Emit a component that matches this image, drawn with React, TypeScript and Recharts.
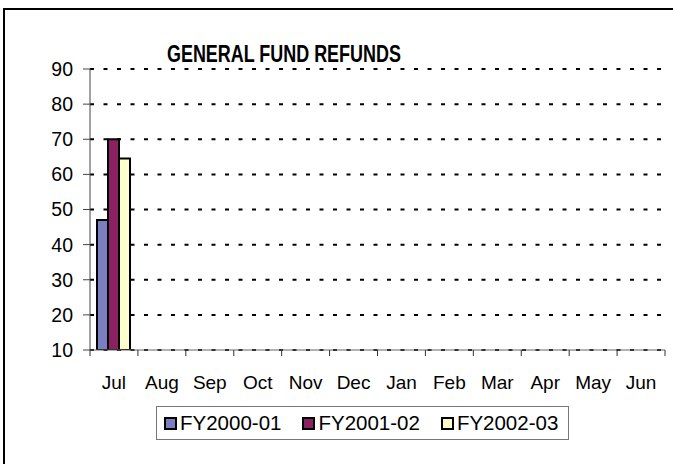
import { BarChart, Bar, XAxis, YAxis, CartesianGrid } from "recharts";

const months = ["Jul", "Aug", "Sep", "Oct", "Nov", "Dec", "Jan", "Feb", "Mar", "Apr", "May", "Jun"];
const fy2000 = [47, null, null, null, null, null, null, null, null, null, null, null];
const fy2001 = [70, null, null, null, null, null, null, null, null, null, null, null];
const fy2002 = [64.5, null, null, null, null, null, null, null, null, null, null, null];
const yTicks = [10, 20, 30, 40, 50, 60, 70, 80, 90];

const series = [
  { key: "fy2000", name: "FY2000-01", color: "#7b7fc0" },
  { key: "fy2001", name: "FY2001-02", color: "#8a2262" },
  { key: "fy2002", name: "FY2002-03", color: "#ffffcc" },
];

const data = months.map((m, i) => ({ month: m, fy2000: fy2000[i], fy2001: fy2001[i], fy2002: fy2002[i] }));

/* ── layout ─────────────────────────────────────────────── */
const W = 673;
const H = 464;
const LEFT = 90;
const RIGHT = 8;
const TOP = 69;
const BOTTOM = 84;
const XAXIS_H = 30;
const PLOT_BOTTOM = H - BOTTOM - XAXIS_H;
const HALF_BAND = (W - LEFT - RIGHT) / months.length / 2;
const font = "'Liberation Sans', Arial, sans-serif";

function MonthTick({ x, y, payload, index }: any) {
  return (
    <g>
      <line x1={x - HALF_BAND} x2={x - HALF_BAND} y1={PLOT_BOTTOM} y2={PLOT_BOTTOM + 6} stroke="#333" />
      {index === months.length - 1 && (
        <line x1={x + HALF_BAND} x2={x + HALF_BAND} y1={PLOT_BOTTOM} y2={PLOT_BOTTOM + 6} stroke="#333" />
      )}
      <text x={x} y={y} dy="0.71em" textAnchor="middle" fontSize={19} fontFamily={font} fill="#000">
        {payload.value}
      </text>
    </g>
  );
}

export default function App() {
  return (
    <div style={{ position: "absolute", left: 0, top: 0, width: W, height: H, overflow: "hidden", background: "#fff" }}>
      <div
        style={{
          position: "absolute", left: 3, top: 8, width: 700, height: 500,
          borderLeft: "2px solid #000", borderTop: "2px solid #000",
        }}
      />
      <div
        style={{
          position: "absolute", left: 100, width: 367, top: 41, textAlign: "center",
          fontFamily: font, fontWeight: "bold", fontSize: 23, lineHeight: "26px", color: "#000",
        }}
      >
        <span style={{ display: "inline-block", transform: "scaleX(0.78)", whiteSpace: "nowrap" }}>
          GENERAL FUND REFUNDS
        </span>
      </div>
      <div style={{ position: "absolute", left: 0, top: 0 }}>
        <BarChart
          width={W}
          height={H}
          data={data}
          margin={{ top: TOP, right: RIGHT, bottom: BOTTOM, left: 0 }}
          barSize={11}
          barGap={0}
        >
          <CartesianGrid vertical={false} stroke="#000" strokeWidth={2} strokeDasharray="4 9.5" />
          <XAxis
            dataKey="month"
            height={XAXIS_H}
            stroke="#666"
            tickLine={false}
            tickSize={0}
            tickMargin={26}
            interval={0}
            tick={<MonthTick />}
          />
          <YAxis
            width={LEFT}
            domain={[10, 90]}
            ticks={yTicks}
            allowDataOverflow
            stroke="#444"
            tickSize={7}
            tickMargin={10}
            tick={{ fontSize: 19.5, fontFamily: font, fill: "#000" }}
          />
          {series.map((s) => (
            <Bar
              key={s.key}
              dataKey={s.key}
              name={s.name}
              fill={s.color}
              stroke="#000"
              strokeWidth={2}
              isAnimationActive={false}
            />
          ))}
        </BarChart>
      </div>
      <div
        style={{
          position: "absolute", left: 156, top: 406, width: 413, height: 34,
          border: "1px solid #777", display: "flex", alignItems: "center",
          gap: 21, paddingLeft: 7, boxSizing: "border-box",
          fontFamily: font, fontSize: 20.5, color: "#000",
        }}
      >
        {series.map((s) => (
          <span key={s.key} style={{ display: "flex", alignItems: "center" }}>
            <span
              style={{
                display: "inline-block", width: 9, height: 9, background: s.color,
                border: "2px solid #000", marginRight: 3,
              }}
            />
            {s.name}
          </span>
        ))}
      </div>
    </div>
  );
}
